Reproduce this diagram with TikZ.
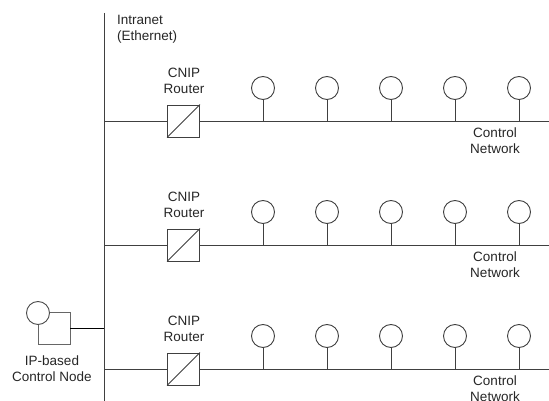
\documentclass[tikz,border=0pt]{standalone}
\usepackage{fontspec}
\setmainfont{Liberation Sans}
\begin{document}
\begin{tikzpicture}[x=1pt,y=-1pt,
  wire/.style={draw=black!75,line width=0.9pt},
  routerbox/.style={draw=black!75,line width=0.9pt,rectangle,minimum size=32pt,inner sep=0pt,fill=white},
  dev/.style={draw=black!75,line width=0.9pt,circle,minimum size=23pt,inner sep=0pt,fill=white},
  lbl/.style={font=\fontsize{13.5}{16}\selectfont,align=center,inner sep=0pt,text=black!85}]
\useasboundingbox (0,0) rectangle (549,401);
% Ethernet backbone
\coordinate (eTop) at (104,13);
\coordinate (eBot) at (104,401);
\draw[wire] (eTop) -- (eBot);
\node[lbl,align=left,anchor=west] (intranet) at (117,29.5) {Intranet\\(Ethernet)};
% rows
\foreach \r/\y in {1/121,2/245,3/369}{
  \coordinate (b\r) at (104,\y);
  \coordinate (e\r) at (549,\y);
  \node[routerbox] (r\r) at (183.5,\y) {};
  \draw[wire] (r\r.south west) -- (r\r.north east);
  \draw[wire] (b\r) -- (r\r.west);
  \draw[wire] (r\r.east) -- (e\r);
  \node[lbl] (cnip\r) at (184,\y-40) {CNIP\\Router};
  \node[lbl] (cn\r) at (495,\y+20) {Control\\Network};
  \foreach \k/\x in {1/263,2/327,3/391,4/455,5/519}{
    \coordinate (s\r\k) at (\x,\y);
    \node[dev] (d\r\k) at (\x,\y-33) {};
    \draw[wire] (d\r\k.south) -- (s\r\k);
  }
}
% IP-based control node
\node[draw=black!60,line width=0.9pt,rectangle,minimum size=32pt,inner sep=0pt] (ipbox) at (54,328) {};
\node[dev,draw=black!70] (ipcirc) at (38,313) {};
\coordinate (ipj) at (104,328);
\draw[wire,draw=black] (ipbox.east) -- (ipj);
\node[lbl] (iplbl) at (52,368.5) {IP-based\\Control Node};
\end{tikzpicture}
\end{document}
